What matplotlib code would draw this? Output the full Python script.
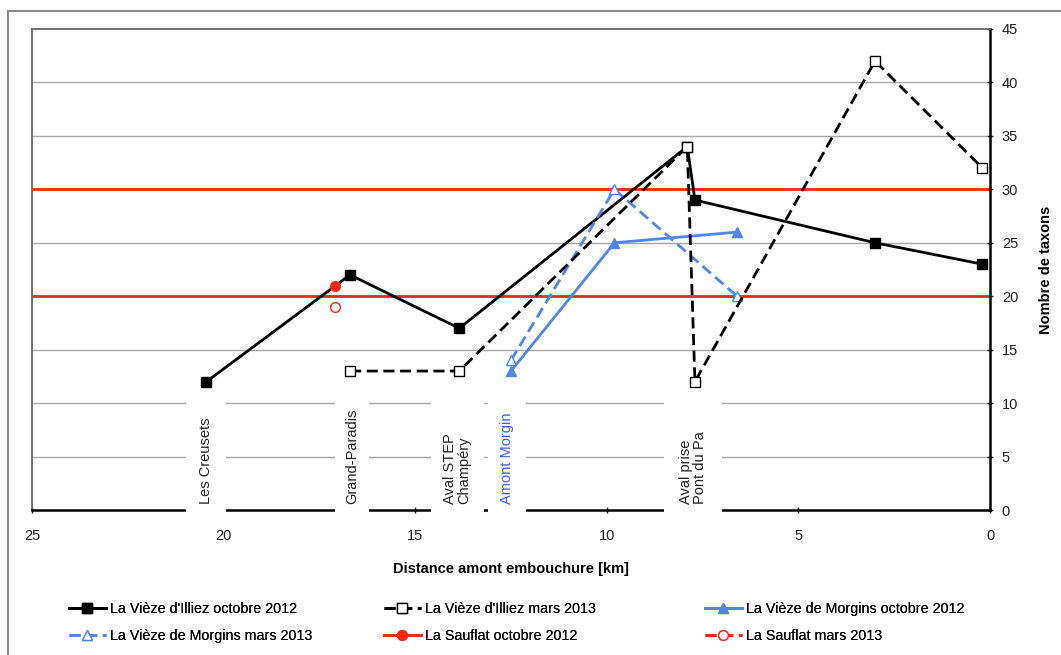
import matplotlib
matplotlib.use("Agg")
import matplotlib.pyplot as plt
from matplotlib.patches import Rectangle

plt.rcParams['font.family'] = ['Liberation Sans', 'DejaVu Sans']

# data (km upstream of the mouth, number of taxa)
illiez_oct_km = [20.45, 16.7, 13.85, 7.9, 7.7, 3.0, 0.2]
illiez_oct = [12, 22, 17, 34, 29, 25, 23]
illiez_mars_km = [16.7, 13.85, 7.9, 7.7, 3.0, 0.2]
illiez_mars = [13, 13, 34, 12, 42, 32]
morgins_km = [12.5, 9.8, 6.6]
morgins_oct = [13, 25, 26]
morgins_mars = [14, 30, 20]
sauflat_km = [17.1]
sauflat_oct = [21]
sauflat_mars = [19]
limits = [20, 30]

site_names = ["Les Creusets", "Grand-Paradis", "Aval STEP\nChampéry", "Amont Morgin", "Aval prise\nPont du Pa"]
site_km = [20.45, 16.65, 13.9, 12.6, 7.75]
site_width = [1.05, 0.9, 1.4, 1.0, 1.5]
site_colors = ["#222222", "#222222", "#222222", "#3a5cf0", "#222222"]

blue = "#4f86ec"
red = "#f02a0a"

fig = plt.figure(figsize=(10.61, 6.55), dpi=100)
fig.patches.append(Rectangle((8/1061, -0.1), 1.2, 1 - 11/655 + 0.1, transform=fig.transFigure,
                             fill=False, edgecolor="#8a8a8a", lw=1.5))
ax = fig.add_axes([32/1061, 1 - 510/655, (990 - 32)/1061, (510 - 29)/655])

for y in range(5, 45, 5):
    ax.axhline(y, color="#a8a8a8", lw=1, zorder=1)
for y in limits:
    ax.axhline(y, color=red, lw=2, zorder=2)

h1, = ax.plot(illiez_oct_km, illiez_oct, color="black", lw=2, marker="s", ms=7, zorder=5,
              label="La Vièze d'Illiez octobre 2012")
h2, = ax.plot(illiez_mars_km, illiez_mars, color="black", lw=2, ls=(0, (4, 2)), marker="s", ms=7,
              mfc="white", mec="black", mew=1, zorder=6, label="La Vièze d'Illiez mars 2013")
h3, = ax.plot(morgins_km, morgins_oct, color=blue, lw=2, marker="^", ms=7, zorder=5,
              label="La Vièze de Morgins octobre 2012")
h4, = ax.plot(morgins_km, morgins_mars, color=blue, lw=2, ls=(0, (4, 2)), marker="^", ms=7,
              mfc="white", mec=blue, mew=1, zorder=5, label="La Vièze de Morgins mars 2013")
h5, = ax.plot(sauflat_km, sauflat_oct, color=red, lw=2, marker="o", ms=7, zorder=5,
              label="La Sauflat octobre 2012")
h6, = ax.plot(sauflat_km, sauflat_mars, color=red, lw=2, ls=(0, (4, 2)), marker="o", ms=7,
              mfc="white", mec=red, mew=1, zorder=5, label="La Sauflat mars 2013")

ax.set_xlim(25, 0)
ax.set_ylim(0, 45)
ax.set_xticks(range(25, -1, -5))
ax.set_yticks(range(0, 46, 5))
ax.yaxis.tick_right()
ax.yaxis.set_label_position("right")
ax.tick_params(axis="both", direction="inout", length=5, width=1, labelsize=10.5, colors="#222222")
ax.tick_params(axis="x", pad=11)
ax.tick_params(axis="y", pad=6)

for side in ["left", "top"]:
    ax.spines[side].set_color("#666666")
    ax.spines[side].set_linewidth(1.3)
for side in ["right", "bottom"]:
    ax.spines[side].set_color("black")
    ax.spines[side].set_linewidth(1.8)

# white boxes with the site names
for name, km, w, c in zip(site_names, site_km, site_width, site_colors):
    ax.axvspan(km - w / 2, km + w / 2, ymin=-0.018, ymax=0.232, facecolor="white",
               edgecolor="none", zorder=3, clip_on=False)
    ax.text(km, 0.6, name, rotation=90, ha="center", va="bottom", fontsize=10.5,
            color=c, zorder=4, linespacing=1.05, multialignment="left")

ax.set_xlabel("Distance amont embouchure [km]", fontsize=10.5, fontweight="bold", labelpad=14)
ax.set_ylabel("Nombre de taxons", fontsize=10.5, fontweight="bold", labelpad=15)

# legend: three columns of two entries each
columns = [[h1, h4], [h2, h5], [h3, h6]]
col_x = [56, 371, 692]
for hs, x in zip(columns, col_x):
    leg = fig.legend(handles=hs, labels=[h.get_label() for h in hs], frameon=False,
                     loc="upper left", bbox_to_anchor=(x/1061, 1 - 589/655), fontsize=10.3,
                     handlelength=2.6, labelspacing=0.95, handletextpad=0.3)
    fig.add_artist(leg)

fig.savefig("out.png", dpi=100)
